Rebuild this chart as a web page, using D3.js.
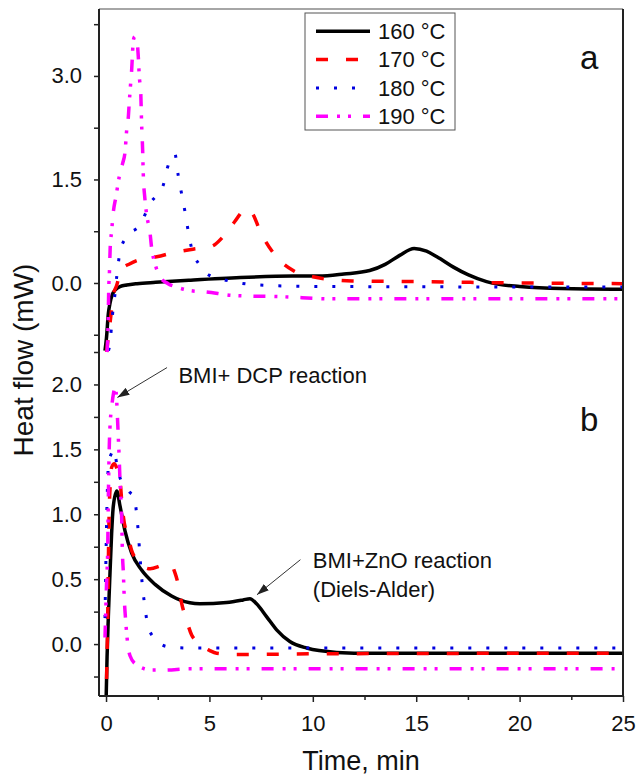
<!DOCTYPE html>
<html>
<head>
<meta charset="utf-8">
<script src="https://cdn.jsdelivr.net/npm/d3@7"></script>
<style>
  body { margin: 0; background: #fff; }
  svg { display: block; font-family: "Liberation Sans", Arial, sans-serif; }
</style>
</head>
<body>
<div id="chart"></div>
<script>
// series labels
const temps = ["160 °C", "170 °C", "180 °C", "190 °C"];

// panel a: [time (min), heat flow (mW)]
const a160 = [[-0.05,-0.98],[0.02,-0.8],[0.11,-0.45],[0.2,-0.28],[0.3,-0.17],[0.45,-0.1],[0.7,-0.05],[1.0,-0.03],[1.5,-0.01],[2.4,0.01],[4,0.04],[6.5,0.08],[9,0.1],[10.3,0.1],[11.5,0.13],[12.75,0.18],[13.5,0.27],[14.2,0.4],[14.9,0.5],[15.5,0.46],[16,0.38],[16.8,0.23],[17.5,0.12],[18.4,0.02],[19,-0.02],[20,-0.05],[22,-0.08],[25,-0.09]];
const a170 = [[0.03,-1.0],[0.1,-0.8],[0.19,-0.59],[0.35,-0.18],[0.52,-0.03],[0.64,0.1],[0.76,0.2],[1.16,0.28],[1.88,0.36],[2.45,0.38],[3.25,0.44],[4.2,0.49],[5.1,0.53],[5.66,0.67],[6.2,0.88],[6.8,1.08],[7.1,1.0],[7.44,0.76],[8.24,0.38],[9.05,0.18],[10.0,0.09],[11.9,0.03],[15,0.02],[20,0.0],[25,-0.01]];
const a180 = [[0.12,-0.98],[0.19,-0.88],[0.27,-0.61],[0.35,-0.35],[0.45,-0.12],[0.52,0.1],[0.6,0.3],[0.68,0.46],[1.0,0.67],[1.64,0.84],[2.13,1.15],[2.77,1.42],[2.95,1.65],[3.33,1.87],[3.49,1.56],[3.65,1.3],[3.82,1.03],[3.97,0.76],[4.14,0.5],[4.5,0.27],[5.0,0.11],[5.8,0.04],[7.4,-0.03],[10,-0.05],[25,-0.06]];
const a190 = [[0.05,-1.0],[0.1,-0.6],[0.13,-0.1],[0.17,0.2],[0.2,0.5],[0.27,0.75],[0.35,1.02],[0.48,1.25],[0.64,1.54],[0.8,1.73],[0.92,1.9],[1.0,2.22],[1.08,2.41],[1.12,2.6],[1.19,2.89],[1.24,3.09],[1.27,3.26],[1.32,3.52],[1.4,3.57],[1.5,3.5],[1.56,3.28],[1.61,2.99],[1.68,2.75],[1.72,2.31],[1.77,1.93],[1.8,1.59],[1.88,1.22],[1.96,1.0],[2.13,0.72],[2.2,0.52],[2.37,0.28],[2.6,0.09],[3.0,-0.01],[3.41,-0.06],[4.06,-0.11],[4.86,-0.13],[6.15,-0.18],[8.56,-0.2],[11,-0.23],[25,-0.23]];

// panel b
const b160 = [[-0.02,-0.6],[0.05,-0.1],[0.12,0.25],[0.19,0.54],[0.27,0.85],[0.35,1.06],[0.52,1.18],[0.68,1.06],[0.92,0.87],[1.24,0.7],[1.72,0.57],[2.37,0.46],[3.17,0.37],[3.57,0.34],[4.54,0.31],[5.83,0.32],[6.63,0.34],[6.96,0.35],[7.28,0.31],[7.77,0.21],[8.25,0.11],[8.89,0.02],[9.7,-0.03],[10.3,-0.05],[12,-0.07],[25,-0.07]];
const b170 = [[0.0,-0.5],[0.04,-0.15],[0.08,0.2],[0.11,0.6],[0.15,1.0],[0.2,1.22],[0.27,1.36],[0.4,1.39],[0.55,1.34],[0.68,1.26],[0.76,1.1],[0.84,0.98],[1.08,0.82],[1.24,0.72],[1.48,0.65],[2.13,0.58],[2.85,0.61],[3.15,0.61],[3.33,0.55],[3.49,0.46],[3.65,0.32],[3.9,0.18],[4.14,0.07],[4.38,0.02],[5.02,-0.05],[5.35,-0.07],[6.3,-0.08],[10,-0.075],[25,-0.07]];
const b180 = [[-0.05,0.2],[0.0,0.7],[0.05,1.1],[0.12,1.38],[0.3,1.48],[0.4,1.5],[0.52,1.38],[0.7,1.27],[0.92,1.22],[1.15,1.17],[1.37,1.13],[1.48,1.0],[1.56,0.86],[1.64,0.68],[1.77,0.43],[1.88,0.29],[2.01,0.15],[2.37,0.04],[2.98,-0.02],[4,-0.03],[25,-0.03]];
const b190 = [[-0.05,0.05],[0.03,0.49],[0.08,0.72],[0.11,1.1],[0.16,1.54],[0.19,1.67],[0.27,1.82],[0.35,1.92],[0.45,1.98],[0.52,1.86],[0.56,1.72],[0.6,1.57],[0.63,1.46],[0.68,1.24],[0.76,0.95],[0.79,0.72],[0.84,0.54],[0.88,0.36],[0.95,0.18],[1.05,0.0],[1.16,-0.09],[1.48,-0.16],[2.2,-0.2],[2.85,-0.2],[4,-0.19],[25,-0.19]];

// ticks
const xTicks = [0, 5, 10, 15, 20, 25];
const xMinor = [2.5, 7.5, 12.5, 17.5, 22.5];
const aTicks = [0, 1.5, 3.0];
const aMinor = [-0.75, 0.75, 2.25, 3.75];
const bTicks = [0, 0.5, 1.0, 1.5, 2.0];
const bMinor = [-0.25, 0.25, 0.75, 1.25, 1.75, 2.25];

const width = 640, height = 780;
const plotLeft = 99, plotRight = 623, plotTop = 9, plotBottom = 696, split = 352;

const styles = [
  {color: "#000000", dash: null, w: 3.5},
  {color: "#ff0000", dash: "12,18", w: 3.5},
  {color: "#0000e0", dash: "3,15", w: 3},
  {color: "#ff00ff", dash: "12,9,3,8,3,12", w: 3.5}
];

const x = d3.scaleLinear().domain([-0.34, 25]).range([plotLeft, plotRight]);
const yA = d3.scaleLinear().domain([-1.0, 3.97]).range([split, plotTop]);
const yB = d3.scaleLinear().domain([-0.4, 2.25]).range([plotBottom, split]);

const svg = d3.select("#chart").append("svg")
    .attr("width", width)
    .attr("height", height);

// clip regions for the two stacked panels
const defs = svg.append("defs");
defs.append("clipPath").attr("id", "clipA").append("rect")
    .attr("x", plotLeft).attr("y", plotTop).attr("width", plotRight - plotLeft).attr("height", split + 3 - plotTop);
defs.append("clipPath").attr("id", "clipB").append("rect")
    .attr("x", plotLeft).attr("y", split - 2).attr("width", plotRight - plotLeft).attr("height", plotBottom - split + 2);
defs.append("marker")
    .attr("id", "arrow")
    .attr("viewBox", "0 0 12 8")
    .attr("refX", 12).attr("refY", 4)
    .attr("markerWidth", 12).attr("markerHeight", 8)
    .attr("markerUnits", "userSpaceOnUse")
    .attr("orient", "auto")
    .append("path").attr("d", "M0,0 L12,4 L0,8 Z").attr("fill", "#222");

function drawPanel(series, y, clip) {
  const line = d3.line()
      .x(function(d) { return x(d[0]); })
      .y(function(d) { return y(d[1]); })
      .curve(d3.curveMonotoneX);
  const g = svg.append("g").attr("clip-path", "url(#" + clip + ")");
  series.forEach(function(s, i) {
    g.append("path")
        .attr("d", line(s))
        .attr("fill", "none")
        .attr("stroke", styles[i].color)
        .attr("stroke-width", styles[i].w)
        .attr("stroke-dasharray", styles[i].dash)
        .attr("stroke-linejoin", "round");
  });
}

drawPanel([a160, a170, a180, a190], yA, "clipA");
drawPanel([b160, b170, b180, b190], yB, "clipB");

// axes
function styleAxis(g) {
  g.select(".domain").remove();
  g.selectAll("line").attr("stroke", "#222").attr("stroke-width", 1.5);
  g.selectAll("text").attr("font-size", 22).attr("fill", "#111")
      .attr("font-family", "'Liberation Sans', Arial, sans-serif");
}

svg.append("g")
    .attr("transform", "translate(0," + plotBottom + ")")
    .call(d3.axisBottom(x).tickValues(xTicks).tickFormat(d3.format("d")).tickSize(6).tickPadding(13))
    .call(styleAxis);
svg.append("g")
    .attr("transform", "translate(0," + plotBottom + ")")
    .call(d3.axisBottom(x).tickValues(xMinor).tickFormat("").tickSize(4))
    .call(styleAxis);

svg.append("g")
    .attr("transform", "translate(" + plotLeft + ",0)")
    .call(d3.axisLeft(yA).tickValues(aTicks).tickFormat(d3.format(".1f")).tickSize(5).tickPadding(12))
    .call(styleAxis);
svg.append("g")
    .attr("transform", "translate(" + plotLeft + ",0)")
    .call(d3.axisLeft(yA).tickValues(aMinor).tickFormat("").tickSize(5))
    .call(styleAxis);
svg.append("g")
    .attr("transform", "translate(" + plotLeft + ",0)")
    .call(d3.axisLeft(yB).tickValues(bTicks).tickFormat(d3.format(".1f")).tickSize(5).tickPadding(12))
    .call(styleAxis);
svg.append("g")
    .attr("transform", "translate(" + plotLeft + ",0)")
    .call(d3.axisLeft(yB).tickValues(bMinor).tickFormat("").tickSize(5))
    .call(styleAxis);

// frame
svg.append("line").attr("x1", plotLeft).attr("x2", plotRight).attr("y1", plotTop).attr("y2", plotTop)
    .attr("stroke", "#888").attr("stroke-width", 1.5);
svg.append("line").attr("x1", plotLeft).attr("x2", plotLeft).attr("y1", plotTop).attr("y2", plotBottom)
    .attr("stroke", "#222").attr("stroke-width", 2);
svg.append("line").attr("x1", plotRight).attr("x2", plotRight).attr("y1", plotTop).attr("y2", plotBottom)
    .attr("stroke", "#222").attr("stroke-width", 2);
svg.append("line").attr("x1", plotLeft).attr("x2", plotRight).attr("y1", plotBottom).attr("y2", plotBottom)
    .attr("stroke", "#222").attr("stroke-width", 2);

// axis titles
svg.append("text")
    .attr("x", 361).attr("y", 770)
    .attr("text-anchor", "middle")
    .attr("font-size", 27)
    .attr("fill", "#111")
    .text("Time, min");
svg.append("text")
    .attr("transform", "translate(33,360) rotate(-90)")
    .attr("text-anchor", "middle")
    .attr("font-size", 28)
    .attr("fill", "#111")
    .text("Heat flow (mW)");

// panel letters
svg.append("text").attr("x", 580).attr("y", 69).attr("font-size", 33).attr("fill", "#111").text("a");
svg.append("text").attr("x", 580).attr("y", 431).attr("font-size", 33).attr("fill", "#111").text("b");

// annotations
svg.append("line")
    .attr("x1", x(2.95)).attr("y1", yB(2.13))
    .attr("x2", x(0.55)).attr("y2", yB(1.9))
    .attr("stroke", "#333").attr("stroke-width", 1)
    .attr("marker-end", "url(#arrow)");
svg.append("text")
    .attr("x", x(3.5)).attr("y", yB(2.014))
    .attr("font-size", 22).attr("fill", "#111")
    .text("BMI+ DCP reaction");

svg.append("line")
    .attr("x1", x(9.4)).attr("y1", yB(0.65))
    .attr("x2", x(7.3)).attr("y2", yB(0.38))
    .attr("stroke", "#333").attr("stroke-width", 1)
    .attr("marker-end", "url(#arrow)");
svg.append("text")
    .attr("x", x(10.0)).attr("y", yB(0.586))
    .attr("font-size", 22).attr("fill", "#111")
    .text("BMI+ZnO reaction");
svg.append("text")
    .attr("x", x(10.0)).attr("y", yB(0.363))
    .attr("font-size", 22).attr("fill", "#111")
    .text("(Diels-Alder)");

// legend
const legend = svg.append("g");
legend.append("rect")
    .attr("x", 305).attr("y", 13).attr("width", 150).attr("height", 117)
    .attr("fill", "#fff").attr("stroke", "#555").attr("stroke-width", 1);
temps.forEach(function(t, i) {
  const ly = 31.3 + i * 28.3;
  legend.append("line")
      .attr("x1", 316).attr("x2", 370).attr("y1", ly).attr("y2", ly)
      .attr("stroke", styles[i].color)
      .attr("stroke-width", styles[i].w)
      .attr("stroke-dasharray", styles[i].dash);
  legend.append("text")
      .attr("x", 378).attr("y", ly).attr("dy", "0.35em")
      .attr("font-size", 22).attr("fill", "#111")
      .text(t);
});
</script>
</body>
</html>
